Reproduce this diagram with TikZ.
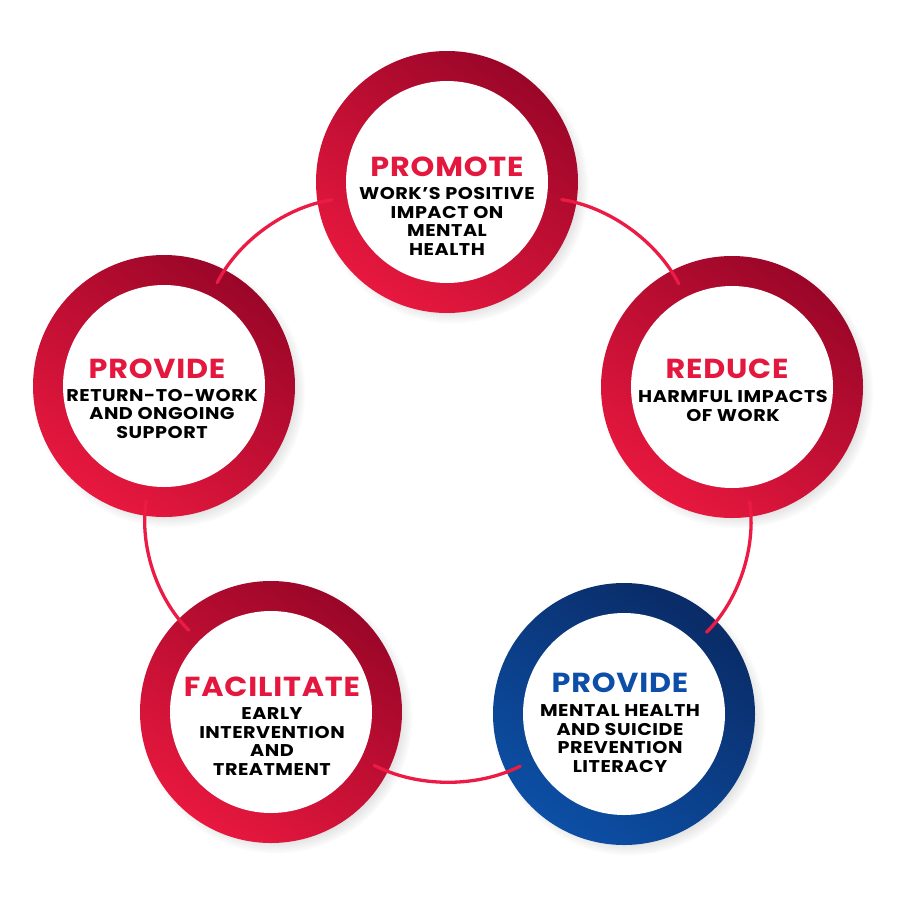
\documentclass[tikz,border=0pt]{standalone}
\usepackage{fontspec}
\setmainfont{Poppins}
\usetikzlibrary{shadows}
\definecolor{rdark}{HTML}{9A0628}
\definecolor{rlight}{HTML}{E8183F}
\definecolor{bdark}{HTML}{0A2B66}
\definecolor{blight}{HTML}{0C4FA5}
\definecolor{rtitle}{HTML}{E4173E}
\definecolor{btitle}{HTML}{0D4EA8}
\definecolor{connred}{HTML}{EC1B45}
\tikzset{
  ringbase/.style={circle, minimum size=262pt, inner sep=0pt,
    circular drop shadow={shadow xshift=5pt, shadow yshift=-5pt, opacity=0.35, shadow scale=1.04}},
  redring/.style={ringbase, top color=rdark, bottom color=rlight, shading angle=-35},
  bluering/.style={ringbase, top color=bdark, bottom color=blight, shading angle=-35},
  hole/.style={circle, minimum size=202pt, inner sep=0pt, fill=white},
  anchorcirc/.style={circle, minimum size=232pt, inner sep=0pt},
  titletext/.style={font=\bfseries\fontsize{27.5}{30}\selectfont\addfontfeatures{FakeStretch=1.1,LetterSpace=3}, inner sep=0pt},
  bodytext/.style={font=\bfseries\fontsize{17}{18.4}\selectfont\addfontfeatures{FakeStretch=1.13,LetterSpace=3}, align=center, inner sep=0pt, text=black},
  connector/.style={draw=connred, line width=3.3pt, line cap=round}
}
\begin{document}
\begin{tikzpicture}[x=1pt,y=-1pt]
\fill[white] (0,0) rectangle (900,900);
\useasboundingbox (0,0) rectangle (900,900);
% rings
\node[redring] (ringA) at (447,182) {};
\node[redring] (ringB) at (732,387) {};
\node[bluering] (ringC) at (624,714) {};
\node[redring] (ringD) at (271,712) {};
\node[redring] (ringE) at (164,386) {};
\node[hole] (holeA) at (447,182) {};
\node[hole] (holeB) at (732,387) {};
\node[hole] (holeC) at (624,714) {};
\node[hole] (holeD) at (271,712) {};
\node[hole] (holeE) at (164,386) {};
% connector anchors
\node[anchorcirc] (A) at (447,182) {};
\node[anchorcirc] (B) at (732,387) {};
\node[anchorcirc] (C) at (624,714) {};
\node[anchorcirc] (D) at (271,712) {};
\node[anchorcirc] (E) at (164,386) {};
\draw[connector] (A) to[bend left=27, looseness=0.85] (B);
\draw[connector] (B) to[bend left=27, looseness=0.85] (C);
\draw[connector] (C) to[bend left=27, looseness=0.85] (D);
\draw[connector] (D) to[bend left=27, looseness=0.85] (E);
\draw[connector] (E) to[bend left=27, looseness=0.85] (A);
% texts
\node[titletext, text=rtitle] (tA) at (447,167) {PROMOTE};
\node[bodytext] (bA) at (447,221.5) {WORK’S POSITIVE\\IMPACT ON\\MENTAL\\HEALTH};
\node[titletext, text=rtitle] (tB) at (727,369) {REDUCE};
\node[bodytext] (bB) at (733,406) {HARMFUL IMPACTS\\OF WORK};
\node[titletext, text=btitle] (tC) at (620,683) {PROVIDE};
\node[bodytext] (bC) at (620,738.5) {MENTAL HEALTH\\AND SUICIDE\\PREVENTION\\LITERACY};
\node[titletext, text=rtitle] (tD) at (272,687) {FACILITATE};
\node[bodytext] (bD) at (272,741.5) {EARLY\\INTERVENTION\\AND\\TREATMENT};
\node[titletext, text=rtitle] (tE) at (157,369) {PROVIDE};
\node[bodytext] (bE) at (162,414) {RETURN-TO-WORK\\AND ONGOING\\SUPPORT};
\end{tikzpicture}
\end{document}
